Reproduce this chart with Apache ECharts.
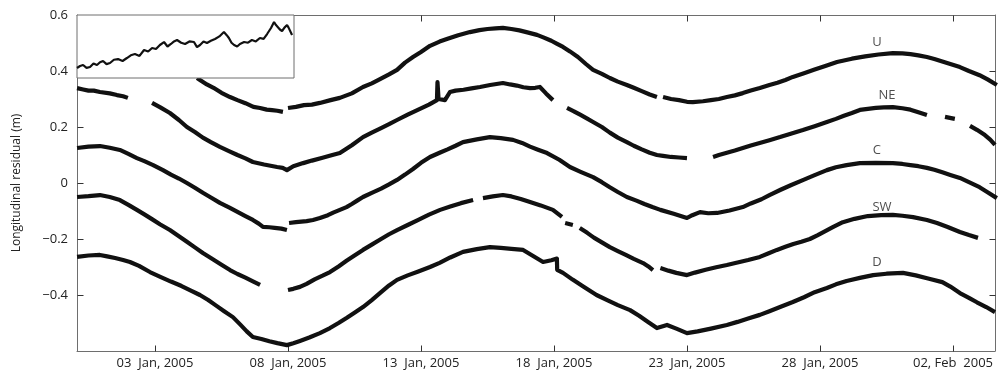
<!DOCTYPE html>
<html>
<head>
<meta charset="utf-8">
<script src="https://cdn.jsdelivr.net/npm/echarts@6/dist/echarts.min.js"></script>
<style>
  html, body { margin: 0; padding: 0; background: #fff; }
  #chart { width: 1001px; height: 378px; }
</style>
</head>
<body>
<div id="chart"></div>
<script>
// x = days since 01 Jan 2005 00:00, y = longitudinal residual (m); null breaks the line
const xTickDays = [2, 7, 12, 17, 22, 27, 32];
const xTickLabels = ["03  Jan, 2005", "08  Jan, 2005", "13  Jan, 2005", "18  Jan, 2005",
  "23  Jan, 2005", "28  Jan, 2005", "02, Feb  2005"];
const yTickValues = [-0.4, -0.2, 0, 0.2, 0.4];
const yTickLabels = { "-0.4": "\u22120.4", "-0.2": "\u22120.2", "0": "0", "0.2": "0.2", "0.4": "0.4", "0.6": "0.6" };
const xMin = -0.932, xMax = 33.58, yMin = -0.6, yMax = 0.6;

const uPoints = [
  [3.58, 0.375], [3.69, 0.368], [3.95, 0.352], [4.2, 0.34], [4.5, 0.322], [4.82, 0.307],
  [5.1, 0.296], [5.4, 0.285], [5.7, 0.272], [5.95, 0.268], [6.2, 0.262], [6.4, 0.26],
  [6.6, 0.258], [6.81, 0.254], [6.9, null],
  [7.0, 0.268], [7.3, 0.272], [7.6, 0.278], [7.9, 0.28], [8.2, 0.286], [8.6, 0.296],
  [8.95, 0.304], [9.4, 0.32], [9.82, 0.343], [10.15, 0.356], [10.46, 0.371], [10.8, 0.388],
  [11.1, 0.404], [11.4, 0.43], [11.7, 0.45], [12.0, 0.468], [12.34, 0.49], [12.7, 0.505],
  [13.0, 0.515], [13.4, 0.528], [13.84, 0.539], [14.2, 0.546], [14.5, 0.55], [14.8, 0.552],
  [15.08, 0.554], [15.4, 0.55], [15.7, 0.545], [16.0, 0.538], [16.36, 0.529], [16.6, 0.52],
  [16.9, 0.508], [17.1, 0.498], [17.34, 0.486], [17.6, 0.47], [17.9, 0.45], [18.2, 0.425],
  [18.47, 0.404], [18.8, 0.39], [19.1, 0.375], [19.4, 0.362], [19.74, 0.35], [20.0, 0.34],
  [20.3, 0.328], [20.6, 0.316], [20.87, 0.307], [20.98, null],
  [21.1, 0.307], [21.4, 0.3], [21.7, 0.296], [22.0, 0.29], [22.22, 0.289], [22.6, 0.292],
  [22.9, 0.296], [23.2, 0.3], [23.5, 0.307], [23.8, 0.313], [24.1, 0.321], [24.4, 0.33],
  [24.74, 0.339], [25.1, 0.35], [25.4, 0.358], [25.7, 0.368], [25.98, 0.379], [26.4, 0.392],
  [26.8, 0.405], [27.2, 0.418], [27.64, 0.432], [28.2, 0.444], [28.7, 0.452], [29.2, 0.459],
  [29.74, 0.464], [30.1, 0.463], [30.4, 0.46], [30.7, 0.456], [31.02, 0.45], [31.3, 0.443],
  [31.6, 0.434], [31.9, 0.425], [32.26, 0.414], [32.6, 0.4], [33.0, 0.385], [33.3, 0.37],
  [33.65, 0.35]
];

const nePoints = [
  [-0.93, 0.339], [-0.7, 0.334], [-0.5, 0.33], [-0.3, 0.33], [-0.07, 0.325], [0.3, 0.32],
  [0.57, 0.314], [0.8, 0.31], [0.98, 0.304], [1.4, null],
  [1.89, 0.286], [2.2, 0.27], [2.56, 0.25], [2.9, 0.225], [3.2, 0.2], [3.5, 0.182],
  [3.8, 0.162], [4.1, 0.146], [4.44, 0.129], [4.8, 0.113], [5.1, 0.1], [5.4, 0.088],
  [5.68, 0.075], [6.1, 0.066], [6.59, 0.057], [6.8, 0.054], [6.96, 0.046], [7.2, 0.06],
  [7.57, 0.071], [7.9, 0.08], [8.3, 0.09], [8.6, 0.098], [8.95, 0.107], [9.4, 0.135],
  [9.82, 0.164], [10.15, 0.18], [10.5, 0.196], [10.8, 0.21], [11.1, 0.225], [11.5, 0.244],
  [11.9, 0.262], [12.3, 0.28], [12.6, 0.296], [12.62, 0.36], [12.66, 0.3], [12.9, 0.296],
  [13.09, 0.325], [13.3, 0.33], [13.6, 0.333], [13.9, 0.338], [14.22, 0.343], [14.6, 0.35],
  [15.08, 0.357], [15.35, 0.352], [15.6, 0.348], [15.85, 0.342], [16.1, 0.339], [16.3, 0.34],
  [16.47, 0.343], [16.7, 0.32], [16.96, 0.296], [17.2, null],
  [17.49, 0.268], [17.75, 0.256], [18.0, 0.243], [18.25, 0.23], [18.47, 0.218], [18.8, 0.2],
  [19.1, 0.18], [19.4, 0.162], [19.74, 0.146], [20.0, 0.133], [20.3, 0.12], [20.6, 0.108],
  [20.87, 0.1], [21.1, 0.097], [21.4, 0.093], [21.7, 0.091], [22.0, 0.089], [22.5, null],
  [22.98, 0.093], [23.2, 0.1], [23.5, 0.108], [23.8, 0.116], [24.1, 0.125], [24.4, 0.134],
  [24.8, 0.145], [25.1, 0.153], [25.5, 0.164], [25.9, 0.176], [26.36, 0.189], [26.8, 0.203],
  [27.26, 0.218], [27.6, 0.229], [27.9, 0.24], [28.2, 0.25], [28.5, 0.261], [28.8, 0.265],
  [29.1, 0.268], [29.4, 0.27], [29.74, 0.271], [30.1, 0.267], [30.4, 0.262], [30.7, 0.253],
  [31.02, 0.243], [31.3, null],
  [31.7, 0.236], [32.07, 0.229], [32.3, null],
  [32.64, 0.204], [32.9, 0.19], [33.2, 0.171], [33.4, 0.155], [33.58, 0.136]
];

const cPoints = [
  [-0.93, 0.125], [-0.5, 0.13], [-0.07, 0.132], [0.3, 0.126], [0.68, 0.118], [1.0, 0.104],
  [1.32, 0.089], [1.6, 0.078], [1.93, 0.064], [2.3, 0.046], [2.6, 0.03], [2.9, 0.016],
  [3.2, 0.0], [3.5, -0.017], [3.8, -0.035], [4.1, -0.052], [4.44, -0.071], [4.8, -0.088],
  [5.1, -0.103], [5.4, -0.118], [5.68, -0.132], [5.9, -0.145], [6.06, -0.157], [6.3, -0.158],
  [6.5, -0.16], [6.75, -0.163], [6.96, -0.168], [7.0, null],
  [7.04, -0.143], [7.3, -0.14], [7.5, -0.138], [7.7, -0.136], [7.94, -0.132], [8.2, -0.125],
  [8.5, -0.115], [8.7, -0.106], [8.95, -0.096], [9.2, -0.086], [9.4, -0.075], [9.6, -0.063],
  [9.82, -0.05], [10.15, -0.035], [10.5, -0.02], [10.8, -0.005], [11.1, 0.011], [11.4, 0.03],
  [11.7, 0.05], [12.0, 0.072], [12.34, 0.093], [12.7, 0.108], [13.0, 0.12], [13.3, 0.133],
  [13.58, 0.146], [14.1, 0.156], [14.59, 0.164], [15.0, 0.16], [15.46, 0.154], [15.8, 0.143],
  [16.1, 0.13], [16.4, 0.119], [16.74, 0.107], [17.2, 0.083], [17.6, 0.057], [18.0, 0.04],
  [18.47, 0.021], [18.8, 0.003], [19.1, -0.015], [19.4, -0.032], [19.74, -0.05], [20.1, -0.063],
  [20.4, -0.075], [20.7, -0.086], [21.0, -0.096], [21.5, -0.11], [22.0, -0.125], [22.2, -0.115],
  [22.49, -0.104], [22.8, -0.108], [23.13, -0.107], [23.6, -0.098], [24.1, -0.086],
  [24.4, -0.073], [24.8, -0.058], [25.1, -0.043], [25.5, -0.025], [25.9, -0.008], [26.4, 0.012],
  [26.8, 0.028], [27.26, 0.046], [27.6, 0.056], [28.0, 0.064], [28.5, 0.071], [29.1, 0.072],
  [29.74, 0.071], [30.1, 0.068], [30.4, 0.064], [30.7, 0.06], [31.02, 0.054], [31.3, 0.047],
  [31.6, 0.038], [31.9, 0.029], [32.26, 0.018], [32.6, 0.003], [33.0, -0.015], [33.3, -0.033],
  [33.65, -0.054]
];

const swPoints = [
  [-0.93, -0.05], [-0.5, -0.047], [-0.07, -0.043], [0.3, -0.05], [0.68, -0.061], [1.0, -0.078],
  [1.32, -0.096], [1.6, -0.112], [1.9, -0.13], [2.2, -0.148], [2.56, -0.168], [2.9, -0.19],
  [3.2, -0.21], [3.5, -0.23], [3.8, -0.25], [4.1, -0.268], [4.5, -0.292], [4.82, -0.311],
  [5.1, -0.325], [5.4, -0.338], [5.7, -0.352], [5.95, -0.364], [6.4, null],
  [7.0, -0.382], [7.2, -0.378], [7.45, -0.371], [7.7, -0.36], [8.0, -0.344], [8.3, -0.331],
  [8.58, -0.318], [8.9, -0.298], [9.2, -0.278], [9.5, -0.259], [9.82, -0.239], [10.15, -0.22],
  [10.5, -0.2], [10.8, -0.183], [11.1, -0.168], [11.5, -0.15], [11.9, -0.132], [12.3, -0.113],
  [12.72, -0.096], [13.1, -0.084], [13.5, -0.072], [13.96, -0.061], [14.1, null],
  [14.33, -0.054], [14.7, -0.048], [15.08, -0.043], [15.4, -0.048], [15.75, -0.057],
  [16.1, -0.068], [16.5, -0.08], [16.96, -0.096], [17.3, -0.121], [17.36, null],
  [17.42, -0.143], [17.71, -0.15], [17.8, null],
  [17.97, -0.161], [18.25, -0.178], [18.5, -0.195], [18.8, -0.212], [19.1, -0.229],
  [19.4, -0.243], [19.7, -0.257], [20.0, -0.271], [20.35, -0.286], [20.55, -0.298],
  [20.72, -0.311], [20.85, null],
  [21.0, -0.304], [21.3, -0.313], [21.6, -0.321], [22.0, -0.329], [22.3, -0.32], [22.7, -0.31],
  [23.1, -0.301], [23.5, -0.293], [23.9, -0.284], [24.3, -0.275], [24.74, -0.264],
  [25.05, -0.252], [25.38, -0.239], [25.7, -0.228], [26.0, -0.218], [26.3, -0.21],
  [26.62, -0.2], [26.9, -0.187], [27.2, -0.172], [27.5, -0.157], [27.86, -0.14], [28.3, -0.128],
  [28.8, -0.118], [29.3, -0.115], [29.74, -0.114], [30.1, -0.117], [30.5, -0.122],
  [31.02, -0.132], [31.4, -0.143], [31.8, -0.157], [32.26, -0.175], [32.6, -0.186],
  [32.94, -0.196]
];

const dPoints = [
  [-0.93, -0.264], [-0.5, -0.259], [-0.07, -0.257], [0.2, -0.262], [0.5, -0.268], [0.8, -0.275],
  [1.06, -0.282], [1.4, -0.296], [1.81, -0.318], [2.2, -0.335], [2.6, -0.352], [3.0, -0.368],
  [3.35, -0.384], [3.69, -0.4], [4.0, -0.418], [4.3, -0.438], [4.6, -0.458], [4.93, -0.479],
  [5.2, -0.505], [5.45, -0.53], [5.68, -0.55], [6.0, -0.557], [6.3, -0.565], [6.6, -0.572],
  [6.96, -0.579], [7.2, -0.572], [7.45, -0.564], [7.8, -0.552], [8.2, -0.536], [8.58, -0.518],
  [8.9, -0.5], [9.2, -0.482], [9.5, -0.463], [9.82, -0.443], [10.15, -0.418], [10.5, -0.39],
  [10.8, -0.366], [11.1, -0.346], [11.5, -0.33], [11.9, -0.316], [12.34, -0.3], [12.7, -0.285],
  [13.1, -0.266], [13.58, -0.246], [14.1, -0.236], [14.59, -0.229], [15.0, -0.232],
  [15.4, -0.235], [15.84, -0.239], [16.2, -0.26], [16.59, -0.282], [16.9, -0.276],
  [17.11, -0.27], [17.12, -0.31], [17.34, -0.321], [17.7, -0.345], [18.1, -0.37], [18.6, -0.4],
  [19.0, -0.418], [19.4, -0.436], [19.86, -0.454], [20.2, -0.474], [20.55, -0.497],
  [20.87, -0.518], [21.25, -0.507], [21.6, -0.52], [22.0, -0.536], [22.4, -0.53], [22.9, -0.52],
  [23.5, -0.507], [23.9, -0.496], [24.3, -0.484], [24.74, -0.471], [25.1, -0.458],
  [25.5, -0.443], [25.98, -0.425], [26.4, -0.408], [26.8, -0.39], [27.26, -0.375],
  [27.6, -0.362], [28.0, -0.35], [28.5, -0.339], [29.0, -0.329], [29.5, -0.324],
  [30.12, -0.321], [30.6, -0.33], [31.1, -0.342], [31.6, -0.354], [31.9, -0.37],
  [32.26, -0.393], [32.6, -0.41], [32.9, -0.426], [33.25, -0.443], [33.58, -0.461]
];

// inset: x 0..100 across the box, y 0..1 bottom to top
const insetPoints = [
  [0, 0.159], [1.4, 0.19], [2.8, 0.206], [4.4, 0.16], [6.0, 0.175], [7.6, 0.23], [9.2, 0.206],
  [10.6, 0.25], [12.0, 0.27], [13.6, 0.22], [15.2, 0.238], [17.0, 0.29], [18.9, 0.3],
  [21.0, 0.27], [23.0, 0.317], [24.8, 0.36], [26.7, 0.381], [28.8, 0.35], [30.9, 0.444],
  [32.8, 0.42], [34.6, 0.476], [36.4, 0.46], [38.2, 0.524], [40.1, 0.571], [41.7, 0.5],
  [43.3, 0.54], [44.7, 0.58], [46.1, 0.603], [48.0, 0.56], [49.8, 0.54], [51.8, 0.58],
  [53.9, 0.571], [55.3, 0.49], [56.7, 0.524], [58.3, 0.58], [59.9, 0.556], [61.7, 0.59],
  [63.6, 0.619], [65.6, 0.66], [67.7, 0.73], [69.0, 0.68], [70.0, 0.635], [71.2, 0.56],
  [72.4, 0.524], [73.8, 0.5], [75.1, 0.54], [77.0, 0.571], [78.8, 0.56], [80.6, 0.603],
  [82.4, 0.58], [84.3, 0.635], [86.0, 0.62], [87.6, 0.698], [89.4, 0.794], [90.8, 0.889],
  [91.7, 0.84], [92.6, 0.81], [93.5, 0.77], [94.5, 0.746], [95.6, 0.8], [96.8, 0.841],
  [97.5, 0.8], [98.2, 0.778], [99.1, 0.683]
];

const curveNames = ["U", "NE", "C", "SW", "D"];
const curveLabelAt = [[29.14, 0.504], [29.52, 0.314], [29.14, 0.118], [29.33, -0.086], [29.14, -0.282]];

const fontFamily = "'Open Sans', 'Noto Sans', sans-serif";
const frameColor = "#6e6e6e";
const textColor = "#222";
const tickLen = 6;
const tickLine = { stroke: "#333", lineWidth: 1 };

const toData = (pts) => pts.map(([x, y]) => [x, y === null ? "-" : y]);

const lineSeries = (name, pts) => ({
  name,
  type: "line",
  xAxisIndex: 0,
  yAxisIndex: 0,
  data: toData(pts),
  showSymbol: false,
  connectNulls: false,
  silent: true,
  animation: false,
  lineStyle: { color: "#111", width: 4.2, join: "round" },
});

// inward frame ticks, placed through the main grid's scales
const tickSeries = (values, vertical) => ({
  type: "custom",
  xAxisIndex: 0,
  yAxisIndex: 0,
  silent: true,
  clip: false,
  data: values.map((v) => [v]),
  renderItem: (params, api) => {
    const v = api.value(0);
    const a = vertical ? api.coord([v, yMin]) : api.coord([xMin, v]);
    const b = vertical ? api.coord([v, yMax]) : api.coord([xMax, v]);
    const ax = Math.round(a[0]) + 0.5, ay = Math.round(a[1]) + 0.5;
    const bx = Math.round(b[0]) + 0.5, by = Math.round(b[1]) + 0.5;
    const children = vertical
      ? [
          { type: "line", shape: { x1: ax, y1: ay, x2: ax, y2: ay - tickLen }, style: tickLine },
          { type: "line", shape: { x1: bx, y1: by, x2: bx, y2: by + tickLen }, style: tickLine },
        ]
      : [
          { type: "line", shape: { x1: ax, y1: ay, x2: ax + tickLen, y2: ay }, style: tickLine },
          { type: "line", shape: { x1: bx, y1: by, x2: bx - tickLen, y2: by }, style: tickLine },
        ];
    return { type: "group", children };
  },
});

const chart = echarts.init(document.getElementById("chart"));

const axisLine = () => ({ show: true, onZero: false, lineStyle: { color: frameColor, width: 1 } });

chart.setOption({
  animation: false,
  textStyle: { fontFamily },
  grid: [
    { left: 77, right: 6, top: 15, bottom: 27 },
    { left: 77, top: 15, width: 217, height: 63, show: true, backgroundColor: "#fff",
      borderColor: frameColor, borderWidth: 1, z: 5 },
  ],
  xAxis: [
    {
      type: "value", gridIndex: 0, position: "bottom", min: xMin, max: xMax,
      axisLine: axisLine(), splitLine: { show: false },
      axisTick: { show: false },
      axisLabel: {
        customValues: xTickDays, color: textColor, fontSize: 13, margin: 6,
        formatter: (v) => xTickLabels[xTickDays.indexOf(v)] || "",
      },
    },
    {
      type: "value", gridIndex: 0, position: "top", min: xMin, max: xMax,
      axisLine: axisLine(), splitLine: { show: false },
      axisTick: { show: false },
      axisLabel: { show: false },
    },
    { type: "value", gridIndex: 1, min: 0, max: 100, show: false },
  ],
  yAxis: [
    {
      type: "value", gridIndex: 0, position: "left", min: yMin, max: yMax, interval: 0.2,
      axisLine: axisLine(), splitLine: { show: false },
      axisTick: { show: false },
      axisLabel: {
        color: textColor, fontSize: 13, margin: 9,
        formatter: (v) => yTickLabels[String(Math.round(v * 10) / 10)] || "",
      },
      name: "Longitudinal residual (m)",
      nameLocation: "middle",
      nameGap: 54,
      nameTextStyle: { color: textColor, fontSize: 12, fontFamily },
    },
    {
      type: "value", gridIndex: 0, position: "right", min: yMin, max: yMax, interval: 0.2,
      axisLine: axisLine(), splitLine: { show: false },
      axisTick: { show: false },
      axisLabel: { show: false },
    },
    { type: "value", gridIndex: 1, min: 0, max: 1, show: false },
  ],
  series: [
    tickSeries(xTickDays, true),
    tickSeries(yTickValues, false),
    lineSeries("U", uPoints),
    lineSeries("NE", nePoints),
    lineSeries("C", cPoints),
    lineSeries("SW", swPoints),
    lineSeries("D", dPoints),
    {
      name: "inset",
      type: "line",
      xAxisIndex: 2,
      yAxisIndex: 2,
      z: 6,
      data: insetPoints,
      showSymbol: false,
      silent: true,
      lineStyle: { color: "#111", width: 2.2 },
    },
    {
      name: "labels",
      type: "scatter",
      xAxisIndex: 0,
      yAxisIndex: 0,
      symbolSize: 1,
      itemStyle: { color: "rgba(0,0,0,0)" },
      silent: true,
      data: curveLabelAt.map((p, i) => ({ value: p, name: curveNames[i] })),
      label: {
        show: true, position: "inside", formatter: (p) => p.name,
        color: textColor, fontSize: 13, fontFamily,
      },
    },
  ],
});
</script>
</body>
</html>
